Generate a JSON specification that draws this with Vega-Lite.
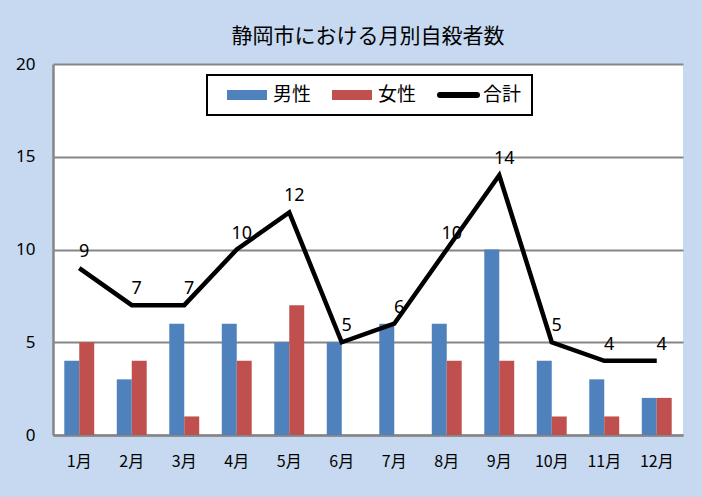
{
  "$schema": "https://vega.github.io/schema/vega-lite/v6.json",
  "width": 630,
  "height": 371,
  "autosize": {"type": "none"},
  "padding": {"left": 53, "top": 64, "right": 19, "bottom": 62},
  "background": "#C6D9F1",
  "config": {
    "view": {"fill": "white", "stroke": null},
    "font": "Noto Sans CJK JP"
  },
  "title": {
    "text": "静岡市における月別自殺者数",
    "fontSize": 21,
    "fontWeight": "normal",
    "color": "#000000",
    "font": "Noto Sans CJK JP",
    "offset": 8,
    "anchor": "middle"
  },
  "data": {
    "values": [
      {"month": "1月", "男性": 4, "女性": 5, "合計": 9},
      {"month": "2月", "男性": 3, "女性": 4, "合計": 7},
      {"month": "3月", "男性": 6, "女性": 1, "合計": 7},
      {"month": "4月", "男性": 6, "女性": 4, "合計": 10},
      {"month": "5月", "男性": 5, "女性": 7, "合計": 12},
      {"month": "6月", "男性": 5, "女性": 0, "合計": 5},
      {"month": "7月", "男性": 6, "女性": 0, "合計": 6},
      {"month": "8月", "男性": 6, "女性": 4, "合計": 10},
      {"month": "9月", "男性": 10, "女性": 4, "合計": 14},
      {"month": "10月", "男性": 4, "女性": 1, "合計": 5},
      {"month": "11月", "男性": 3, "女性": 1, "合計": 4},
      {"month": "12月", "男性": 2, "女性": 2, "合計": 4}
    ]
  },
  "layer": [
    {
      "transform": [{"fold": ["男性", "女性"], "as": ["series", "count"]}],
      "mark": {"type": "bar"},
      "encoding": {
        "x": {
          "field": "month",
          "type": "nominal",
          "sort": null,
          "scale": {"paddingInner": 0.43, "paddingOuter": 0.215},
          "axis": {
            "title": null,
            "labelAngle": 0,
            "labelFontSize": 16,
            "labelFont": "Noto Sans CJK JP",
            "labelColor": "#000000",
            "labelPadding": 18,
            "ticks": false,
            "domainColor": "#868686",
            "domainWidth": 2.5
          }
        },
        "xOffset": {"field": "series", "type": "nominal", "scale": {"domain": ["男性", "女性"], "paddingInner": 0, "paddingOuter": 0}},
        "y": {
          "field": "count",
          "type": "quantitative",
          "scale": {"domain": [0, 20], "nice": false},
          "axis": {
            "title": null,
            "values": [0, 5, 10, 15, 20],
            "labelFontSize": 17,
            "labelFont": "Noto Sans",
            "labelColor": "#000000",
            "labelPadding": 18,
            "ticks": false,
            "domainColor": "#868686",
            "domainWidth": 2.5,
            "gridColor": "#868686",
            "gridWidth": 2
          }
        },
        "color": {
          "field": "series",
          "type": "nominal",
          "scale": {"domain": ["男性", "女性", "合計"], "range": ["#4F81BD", "#C0504D", "#000000"]},
          "legend": {
            "orient": "none",
            "legendX": 154,
            "legendY": 11,
            "direction": "horizontal",
            "title": null,
            "strokeColor": "#000000",
            "fillColor": "white",
            "padding": 10,
            "symbolSize": 400,
            "symbolStrokeWidth": 0,
            "labelFontSize": 19,
            "labelFont": "Noto Sans CJK JP",
            "labelColor": "#000000",
            "labelOffset": 36,
            "columnPadding": 10,
            "encode": {
              "legend": {"update": {"strokeWidth": {"value": 2}}},
              "symbols": {
                "update": {
                  "shape": {"signal": "datum.value === '合計' ? 'M0.3,-0.3H4Q4.3,-0.3,4.3,0Q4.3,0.3,4,0.3H0.3Q0,0.3,0,0Q0,-0.3,0.3,-0.3Z' : 'M0,-0.5H4V0.5H0Z'"},
                  "fill": {"signal": "scale('color', datum.value)"},
                  "opacity": {"value": 1}
                }
              }
            }
          }
        }
      }
    },
    {
      "mark": {"type": "line", "strokeWidth": 4.5, "strokeJoin": "miter"},
      "encoding": {
        "x": {"field": "month", "type": "nominal", "sort": null},
        "y": {"field": "合計", "type": "quantitative"},
        "color": {"datum": "合計"}
      }
    },
    {
      "mark": {"type": "text", "dy": -16, "dx": 5, "fontSize": 18, "font": "Noto Sans", "color": "#000000"},
      "encoding": {
        "x": {"field": "month", "type": "nominal", "sort": null},
        "y": {"field": "合計", "type": "quantitative"},
        "text": {"field": "合計", "type": "quantitative"}
      }
    }
  ]
}
